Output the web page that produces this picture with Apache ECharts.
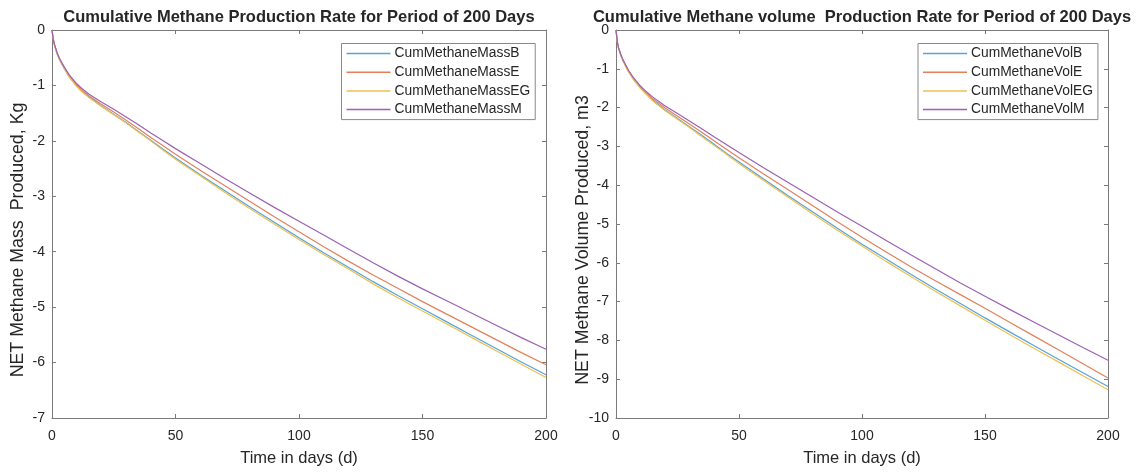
<!DOCTYPE html>
<html>
<head>
<meta charset="utf-8">
<script src="https://cdn.jsdelivr.net/npm/echarts@6/dist/echarts.min.js"></script>
<style>html,body{margin:0;padding:0;background:#fff;}#c{width:1141px;height:472px;}</style>
</head>
<body>
<div id="c"></div>
<script>
// Time axis (days)
var days = [0,0.5,1,2,3,5,7,10,12,15,20,25,30,35,40,45,50,60,70,80,90,100,110,120,130,140,150,160,170,180,190,200];
var xTicks = [0,50,100,150,200];

// Left panel: cumulative methane mass (Kg)
var massB  = [0,-0.17,-0.27,-0.42,-0.53,-0.70,-0.85,-1.01,-1.10,-1.21,-1.37,-1.52,-1.67,-1.83,-1.99,-2.15,-2.31,-2.61,-2.90,-3.19,-3.47,-3.75,-4.02,-4.28,-4.54,-4.79,-5.03,-5.27,-5.51,-5.75,-5.99,-6.22];
var massE  = [0,-0.17,-0.26,-0.41,-0.52,-0.68,-0.83,-0.99,-1.08,-1.19,-1.34,-1.48,-1.63,-1.78,-1.94,-2.09,-2.24,-2.53,-2.81,-3.09,-3.37,-3.64,-3.91,-4.17,-4.42,-4.66,-4.90,-5.13,-5.36,-5.59,-5.82,-6.04];
var massEG = [0,-0.17,-0.27,-0.42,-0.53,-0.70,-0.85,-1.02,-1.11,-1.22,-1.38,-1.53,-1.68,-1.84,-2.00,-2.17,-2.33,-2.63,-2.93,-3.22,-3.50,-3.78,-4.05,-4.31,-4.58,-4.83,-5.07,-5.31,-5.55,-5.79,-6.03,-6.27];
var massM  = [0,-0.17,-0.26,-0.40,-0.51,-0.67,-0.81,-0.97,-1.05,-1.16,-1.30,-1.43,-1.57,-1.71,-1.86,-2.00,-2.14,-2.41,-2.68,-2.94,-3.20,-3.45,-3.70,-3.95,-4.20,-4.44,-4.67,-4.89,-5.11,-5.33,-5.55,-5.76];

// Right panel: cumulative methane volume (m3)
var volB  = [0,-0.30,-0.46,-0.66,-0.81,-1.06,-1.26,-1.50,-1.63,-1.81,-2.06,-2.28,-2.50,-2.72,-2.95,-3.18,-3.40,-3.84,-4.27,-4.69,-5.11,-5.52,-5.91,-6.30,-6.68,-7.05,-7.42,-7.78,-8.14,-8.49,-8.84,-9.19];
var volE  = [0,-0.29,-0.45,-0.65,-0.80,-1.04,-1.24,-1.47,-1.60,-1.77,-2.01,-2.22,-2.43,-2.64,-2.86,-3.08,-3.29,-3.71,-4.12,-4.53,-4.94,-5.34,-5.73,-6.11,-6.47,-6.82,-7.17,-7.53,-7.89,-8.25,-8.61,-8.97];
var volEG = [0,-0.30,-0.46,-0.66,-0.82,-1.07,-1.27,-1.51,-1.64,-1.83,-2.08,-2.30,-2.52,-2.75,-2.98,-3.21,-3.44,-3.88,-4.31,-4.74,-5.16,-5.57,-5.97,-6.36,-6.74,-7.11,-7.48,-7.85,-8.21,-8.56,-8.92,-9.27];
var volM  = [0,-0.29,-0.45,-0.64,-0.79,-1.03,-1.22,-1.45,-1.57,-1.73,-1.96,-2.15,-2.35,-2.55,-2.76,-2.96,-3.16,-3.55,-3.93,-4.31,-4.69,-5.06,-5.43,-5.80,-6.16,-6.52,-6.86,-7.20,-7.53,-7.86,-8.19,-8.51];

var massNames = ['CumMethaneMassB','CumMethaneMassE','CumMethaneMassEG','CumMethaneMassM'];
var volNames  = ['CumMethaneVolB','CumMethaneVolE','CumMethaneVolEG','CumMethaneVolM'];
var colors = ['#55a3d8','#e3805c','#efc04f','#9b62b4'];

function zip(v){ return days.map(function(d,i){ return [d, v[i]]; }); }

var FONT = 'Liberation Sans, Arial, Helvetica, sans-serif';
var TXT = '#262626';
var AX = '#7a7a7a';

function xAx(gi, pos, show){
  return {
    type:'value', gridIndex:gi, position:pos, min:0, max:200, interval:50,
    name: show ? 'Time in days (d)' : '', nameLocation:'middle', nameGap:32,
    nameTextStyle:{fontFamily:FONT, fontSize:16.5, color:TXT},
    axisLine:{show:true, onZero:false, lineStyle:{color:AX, width:1}},
    axisTick:{show:true, inside:true, length:4, lineStyle:{color:AX}},
    axisLabel:{show:show, margin:11, fontFamily:FONT, fontSize:14, color:TXT},
    splitLine:{show:false}
  };
}
function yAx(gi, pos, show, mn){
  return {
    type:'value', gridIndex:gi, position:pos, min:mn, max:0, interval:1,
    axisLine:{show:true, onZero:false, lineStyle:{color:AX, width:1}},
    axisTick:{show:true, inside:true, length:4, lineStyle:{color:AX}},
    axisLabel:{show:show, margin:7, fontFamily:FONT, fontSize:14, color:TXT},
    splitLine:{show:false}
  };
}

var series = [];
[massB,massE,massEG,massM].forEach(function(v,i){
  series.push({type:'line', name:massNames[i], xAxisIndex:0, yAxisIndex:0, data:zip(v),
    showSymbol:false, lineStyle:{width:1.2, color:colors[i]}, itemStyle:{color:colors[i]}});
});
[volB,volE,volEG,volM].forEach(function(v,i){
  series.push({type:'line', name:volNames[i], xAxisIndex:2, yAxisIndex:2, data:zip(v),
    showSymbol:false, lineStyle:{width:1.2, color:colors[i]}, itemStyle:{color:colors[i]}});
});

function leg(left, names){
  return {
    orient:'vertical', left:left, top:43.5, data:names,
    icon:'rect', itemWidth:44, itemHeight:1.5, itemGap:2.7,
    padding:[2,5,2,5], borderColor:'#8a8a8a', borderWidth:1, backgroundColor:'#fff',
    textStyle:{fontFamily:FONT, fontSize:13.8, color:TXT, lineHeight:16, padding:[0,0,0,-1]}
  };
}

var chart = echarts.init(document.getElementById('c'), null, {renderer:'canvas'});
chart.setOption({
  backgroundColor:'#ffffff',
  animation:false,
  grid:[
    {left:52, top:30, width:494, height:389},
    {left:616, top:30, width:492, height:389}
  ],
  xAxis:[ xAx(0,'bottom',true), xAx(0,'top',false), xAx(1,'bottom',true), xAx(1,'top',false) ],
  yAxis:[ yAx(0,'left',true,-7), yAx(0,'right',false,-7),
          yAx(1,'left',true,-10), yAx(1,'right',false,-10) ],
  legend:[ leg(341.5, massNames), leg(918, volNames) ],
  graphic:[
    {type:'text', x:299, y:17, style:{text:'Cumulative Methane Production Rate for Period of 200 Days', fill:TXT, font:'bold 16.5px '+FONT, textAlign:'center', textVerticalAlign:'middle'}},
    {type:'text', x:862, y:17, style:{text:'Cumulative Methane volume  Production Rate for Period of 200 Days', fill:TXT, font:'bold 16.5px '+FONT, textAlign:'center', textVerticalAlign:'middle'}},
    {type:'text', x:18, y:240, rotation:Math.PI/2, style:{text:'NET Methane Mass  Produced, Kg', fill:TXT, font:'17.8px '+FONT, textAlign:'center', textVerticalAlign:'middle'}},
    {type:'text', x:583, y:240, rotation:Math.PI/2, style:{text:'NET Methane Volume Produced, m3', fill:TXT, font:'17.8px '+FONT, textAlign:'center', textVerticalAlign:'middle'}}
  ],
  series:series
});
</script>
</body>
</html>
